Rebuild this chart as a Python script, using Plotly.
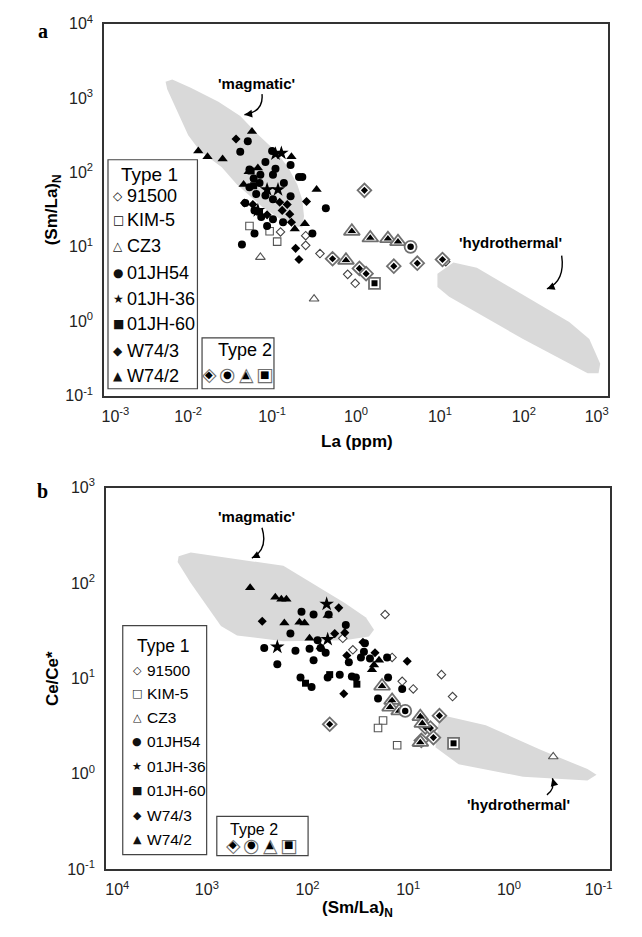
import numpy as np
import plotly.graph_objects as go

W, H = 642, 937
SANS = "Liberation Sans, Arial, Helvetica, sans-serif"
SERIF = "Liberation Serif, Times New Roman, serif"
SYM = "DejaVu Sans, sans-serif"

# ---------------- tick labels (decade exponents) ----------------
a_x_exp = [-3, -2, -1, 0, 1, 2, 3]
a_y_exp = [-1, 0, 1, 2, 3, 4]
b_x_exp = [4, 3, 2, 1, 0, -1]
b_y_exp = [-1, 0, 1, 2, 3]

series_names = ["91500", "KIM-5", "CZ3", "01JH54", "01JH-36", "01JH-60", "W74/3", "W74/2"]
legend_glyphs = ["◇", "□", "△", "●", "★", "■", "◆", "▲"]
type2_names = ["diamond", "circle", "triangle", "square"]
type2_outer_glyphs = ["◇", "○", "△", "□"]
type2_inner_glyphs = ["◆", "●", "▲", "■"]

# ---------------- Panel a: log10 La (ppm) vs log10 (Sm/La)N ----------------
a_91500_la = [-0.90, -0.60, -0.60, -0.43, -0.10, -0.01, 1.07]
a_91500_sm = [1.20, 1.15, 1.02, 0.91, 0.63, 0.51, 0.80]
a_kim5_la = [-1.27, -0.94, -1.03]
a_kim5_sm = [1.28, 1.07, 1.21]
a_cz3_la = [-1.14, -0.50]
a_cz3_sm = [0.86, 0.30]
a_jh54_la = [-1.29, -1.38, -1.00, -1.08, -0.96, -0.78, -1.27, -1.14, -0.99, -1.22, -1.15, -0.86,
             -0.68, -0.64, -1.27, -1.19, -1.08, -0.78, -1.32, -0.99, -1.21, -0.36, -0.99, -1.13,
             -1.21, -1.06, -1.36, -0.52, -0.87]
a_jh54_sm = [2.42, 2.28, 2.29, 2.14, 2.05, 2.10, 2.04, 1.97, 1.97, 1.92, 1.86, 1.86,
             1.94, 1.94, 1.80, 1.71, 1.69, 1.68, 1.59, 1.64, 1.49, 1.52, 1.37, 1.40,
             1.18, 1.28, 1.03, 1.18, 1.33]
a_jh36_la = [-0.89, -0.96, -1.06, -0.93, -1.17]
a_jh36_sm = [2.26, 2.25, 1.77, 1.77, 1.49]
a_jh60_la = [-1.22, -1.15, -1.25]
a_jh60_sm = [1.82, 1.47, 2.02]
a_w743_la = [-1.43, -1.23, -0.91, -0.82, -0.59, -0.88, -0.79, -0.77, -0.72, -0.68, -1.06, -1.33]
a_w743_sm = [2.45, 1.57, 1.60, 1.57, 1.61, 1.49, 1.44, 1.33, 0.98, 0.83, 1.43, 1.59]
a_w742_la = [-1.24, -1.88, -1.77, -1.59, -0.77, -1.17, -1.28, -1.34, -0.47, -0.73, -0.61]
a_w742_sm = [2.55, 2.29, 2.21, 2.18, 2.21, 2.06, 2.01, 1.84, 1.77, 1.24, 1.31]
a_t2_diamond_la = [0.10, -0.28, 0.04, 0.12, 0.45, 0.73, 1.03]
a_t2_diamond_sm = [1.76, 0.84, 0.71, 0.64, 0.74, 0.78, 0.83]
a_t2_triangle_la = [-0.05, 0.17, 0.38, 0.50, -0.12]
a_t2_triangle_sm = [1.21, 1.12, 1.11, 1.07, 0.82]
a_t2_circle_la = [0.65]
a_t2_circle_sm = [1.00]
a_t2_square_la = [0.22]
a_t2_square_sm = [0.51]

# fields (log10 units)
a_magmatic_la = [-2.27, -2.19, -1.97, -1.64, -1.38, -1.16, -0.96, -0.81, -0.70, -0.64, -0.62,
                 -0.64, -0.73, -0.90, -1.12, -1.42, -1.60, -1.86, -2.00, -2.15, -2.25]
a_magmatic_sm = [3.22, 3.25, 3.14, 2.95, 2.76, 2.50, 2.29, 2.07, 1.84, 1.63, 1.41,
                 1.26, 1.28, 1.37, 1.54, 1.84, 2.07, 2.29, 2.50, 2.86, 3.12]
a_hydro_la = [0.97, 1.16, 1.44, 2.54, 2.78, 2.91, 2.89, 2.76, 1.99, 1.11, 0.97]
a_hydro_sm = [0.64, 0.79, 0.72, -0.01, -0.24, -0.57, -0.70, -0.70, -0.24, 0.33, 0.46]

# ---------------- Panel b: log10 (Sm/La)N vs log10 Ce/Ce* ----------------
b_91500_sm = [1.65, 1.55, 1.23, 1.16, 1.06, 0.95, 0.67, 0.56]
b_91500_ce = [1.42, 1.30, 1.67, 1.22, 0.97, 0.89, 1.04, 0.81]
b_kim5_sm = [1.25, 1.30, 1.11]
b_kim5_ce = [0.56, 0.48, 0.30]
b_cz3_sm = [0.90, -0.44]
b_cz3_ce = [0.31, 0.18]
b_jh54_sm = [2.06, 1.94, 1.79, 1.62, 2.17, 1.90, 2.43, 2.12, 1.98, 1.87, 1.82, 2.30, 1.94, 2.07,
             1.96, 1.80, 1.68, 1.56, 1.52, 1.59, 1.44, 1.38, 1.43, 1.20, 1.06, 1.30, 1.21, 1.47]
b_jh54_ce = [1.70, 1.67, 1.67, 1.56, 1.47, 1.40, 1.32, 1.29, 1.31, 1.32, 1.27, 1.15, 1.19, 1.01,
             0.91, 1.01, 1.04, 1.02, 1.01, 1.17, 1.28, 1.21, 1.37, 1.01, 0.89, 0.79, 1.22, 1.22]
b_jh36_sm = [1.81, 2.30, 1.80]
b_jh36_ce = [1.78, 1.33, 1.41]
b_jh60_sm = [2.02, 1.78, 1.51]
b_jh60_ce = [0.95, 1.04, 0.94]
b_w743_sm = [2.45, 1.69, 1.73, 1.63, 1.61, 1.64, 1.45, 1.33, 1.01]
b_w743_ce = [1.60, 1.74, 1.47, 1.48, 1.24, 0.84, 1.38, 1.27, 1.18]
b_w742_sm = [2.57, 2.32, 2.26, 2.21, 2.23, 2.08, 2.03, 1.98, 1.80, 1.87, 1.36, 1.29, 1.34]
b_w742_ce = [1.95, 1.85, 1.83, 1.83, 1.58, 1.59, 1.58, 1.42, 1.66, 1.33, 1.09, 1.19, 1.14]
b_t2_diamond_sm = [1.78, 0.69, 0.83, 0.78, 0.75, 0.87]
b_t2_diamond_ce = [0.52, 0.61, 0.49, 0.48, 0.38, 0.35]
b_t2_triangle_sm = [1.26, 1.16, 1.18, 1.09, 0.88, 0.86, 0.88]
b_t2_triangle_ce = [0.92, 0.77, 0.70, 0.66, 0.60, 0.53, 0.33]
b_t2_circle_sm = [1.03]
b_t2_circle_ce = [0.66]
b_t2_square_sm = [0.55]
b_t2_square_ce = [0.32]

b_magmatic_sm = [3.28, 3.16, 2.24, 1.94, 1.63, 1.42, 1.34, 1.39, 1.63, 2.24, 2.70, 2.86, 3.16, 3.29]
b_magmatic_ce = [2.28, 2.32, 2.18, 1.99, 1.79, 1.64, 1.51, 1.44, 1.40, 1.39, 1.45, 1.55, 2.00, 2.22]
b_hydro_sm = [0.64, 0.23, -0.32, -0.78, -0.87, -0.78, -0.14, 0.50, 0.73, 0.70]
b_hydro_ce = [0.61, 0.51, 0.25, 0.05, -0.01, -0.07, -0.03, 0.10, 0.28, 0.53]

# ---------------- styles ----------------
T1_STYLE = {
    "91500":   dict(symbol="diamond", size=6.5, color="white", line=dict(color="#444", width=1.1)),
    "KIM-5":   dict(symbol="square", size=7.5, color="white", line=dict(color="#555", width=1.1)),
    "CZ3":     dict(symbol="triangle-up", size=8.5, color="white", line=dict(color="#555", width=1.1)),
    "01JH54":  dict(symbol="circle", size=8, color="black", line=dict(width=0)),
    "01JH-36": dict(symbol="star", size=11, color="black", line=dict(width=0)),
    "01JH-60": dict(symbol="square", size=7, color="black", line=dict(width=0)),
    "W74/3":   dict(symbol="diamond", size=7, color="black", line=dict(width=0)),
    "W74/2":   dict(symbol="triangle-up", size=9, color="black", line=dict(width=0)),
}
T2_STYLE = {
    "diamond":  ("diamond", 10.5, 5.5),
    "circle":   ("circle", 12, 6.5),
    "triangle": ("triangle-up", 14, 7.5),
    "square":   ("square", 11, 6),
}
FIELD = "#d9d9d9"

fig = go.Figure()


def L(v):
    return 10 ** np.asarray(v, dtype=float)


def add_field(x, y, xa, ya):
    fig.add_trace(go.Scatter(x=L(x), y=L(y), mode="lines", fill="toself", fillcolor=FIELD,
                             line=dict(width=0, color=FIELD), xaxis=xa, yaxis=ya,
                             hoverinfo="skip", showlegend=False))


def add_t1(name, x, y, xa, ya):
    fig.add_trace(go.Scatter(x=L(x), y=L(y), mode="markers", name=name, marker=T1_STYLE[name],
                             xaxis=xa, yaxis=ya, hoverinfo="skip", showlegend=False))


def add_t2(kind, x, y, xa, ya):
    sym, so, si = T2_STYLE[kind]
    fig.add_trace(go.Scatter(x=L(x), y=L(y), mode="markers",
                             marker=dict(symbol=sym, size=so, color="white",
                                         line=dict(color="#707070", width=1.8)),
                             xaxis=xa, yaxis=ya, hoverinfo="skip", showlegend=False))
    fig.add_trace(go.Scatter(x=L(x), y=L(y), mode="markers",
                             marker=dict(symbol=sym, size=si, color="black", line=dict(width=0)),
                             xaxis=xa, yaxis=ya, hoverinfo="skip", showlegend=False))


# panel a
add_field(a_magmatic_la, a_magmatic_sm, "x", "y")
add_field(a_hydro_la, a_hydro_sm, "x", "y")
a_sets = [("91500", a_91500_la, a_91500_sm), ("KIM-5", a_kim5_la, a_kim5_sm), ("CZ3", a_cz3_la, a_cz3_sm),
          ("01JH54", a_jh54_la, a_jh54_sm), ("01JH-36", a_jh36_la, a_jh36_sm), ("01JH-60", a_jh60_la, a_jh60_sm),
          ("W74/3", a_w743_la, a_w743_sm), ("W74/2", a_w742_la, a_w742_sm)]
for n, x, y in a_sets:
    add_t1(n, x, y, "x", "y")
for k, x, y in [("diamond", a_t2_diamond_la, a_t2_diamond_sm), ("triangle", a_t2_triangle_la, a_t2_triangle_sm),
                ("circle", a_t2_circle_la, a_t2_circle_sm), ("square", a_t2_square_la, a_t2_square_sm)]:
    add_t2(k, x, y, "x", "y")

# panel b
add_field(b_magmatic_sm, b_magmatic_ce, "x2", "y2")
add_field(b_hydro_sm, b_hydro_ce, "x2", "y2")
b_sets = [("91500", b_91500_sm, b_91500_ce), ("KIM-5", b_kim5_sm, b_kim5_ce), ("CZ3", b_cz3_sm, b_cz3_ce),
          ("01JH54", b_jh54_sm, b_jh54_ce), ("01JH-36", b_jh36_sm, b_jh36_ce), ("01JH-60", b_jh60_sm, b_jh60_ce),
          ("W74/3", b_w743_sm, b_w743_ce), ("W74/2", b_w742_sm, b_w742_ce)]
for n, x, y in b_sets:
    add_t1(n, x, y, "x2", "y2")
for k, x, y in [("diamond", b_t2_diamond_sm, b_t2_diamond_ce), ("triangle", b_t2_triangle_sm, b_t2_triangle_ce),
                ("circle", b_t2_circle_sm, b_t2_circle_ce), ("square", b_t2_square_sm, b_t2_square_ce)]:
    add_t2(k, x, y, "x2", "y2")


# ---------------- axes ----------------
NB = "&nbsp;" * 5


def tick_text(exps, edge_pad):
    out = ["10<sup>%d</sup>" % e for e in exps]
    if edge_pad:
        out[0] = NB + out[0]
        out[-1] = out[-1] + NB
    return out


def axis(exps, rng, domain, anchor, standoff, edge_pad=True):
    return dict(type="log", range=rng, domain=domain, anchor=anchor, autorange=False,
                showline=True, mirror=True, linecolor="#333", linewidth=2,
                showgrid=False, zeroline=False, ticks="",
                tickvals=[10.0 ** e for e in exps], ticktext=tick_text(exps, edge_pad),
                tickfont=dict(family=SANS, size=16, color="#222"),
                ticklabelstandoff=standoff, ticklabeloverflow="allow")


def px(x, y):
    return x / W, 1 - y / H


A_X = (86, 632); A_Y = (13, 393)
B_X = (88, 634); B_Y = (487, 877)

fig.update_layout(
    width=W, height=H, margin=dict(l=0, r=0, t=0, b=0),
    paper_bgcolor="white", plot_bgcolor="white", showlegend=False, hovermode=False,
    xaxis=axis(a_x_exp, [-3, 3], [A_X[0] / W, A_X[1] / W], "y", 5),
    yaxis=axis(a_y_exp, [-1, 4], [1 - A_Y[1] / H, 1 - A_Y[0] / H], "x", 6, False),
    xaxis2=axis(b_x_exp, [4, -1], [B_X[0] / W, B_X[1] / W], "y2", 5),
    yaxis2=axis(b_y_exp, [-1, 3], [1 - B_Y[1] / H, 1 - B_Y[0] / H], "x2", 6, False),
)

ann = []
shapes = []


def text(x, y, s, size, family=SANS, color="black", xanchor="center", angle=0):
    X, Y = px(x, y)
    ann.append(dict(x=X, y=Y, xref="paper", yref="paper", text=s, showarrow=False,
                    xanchor=xanchor, yanchor="middle", textangle=angle,
                    font=dict(family=family, size=size, color=color)))


def curved_arrow(p0, c, p1):
    x0, y0 = px(*p0); cx, cy = px(*c); x1, y1 = px(*p1)
    shapes.append(dict(type="path", xref="paper", yref="paper",
                       path="M %f,%f Q %f,%f %f,%f" % (x0, y0, cx, cy, x1, y1),
                       line=dict(color="black", width=1.4)))
    dx, dy = p1[0] - c[0], p1[1] - c[1]
    n = (dx * dx + dy * dy) ** 0.5
    X, Y = px(*p1)
    ann.append(dict(x=X, y=Y, xref="paper", yref="paper", text="", showarrow=True,
                    ax=-7 * dx / n, ay=-7 * dy / n, arrowhead=2, arrowsize=1.1,
                    arrowwidth=1.4, arrowcolor="black"))


def rect(x0, y0, x1, y1):
    X0, Y0 = px(x0, y0); X1, Y1 = px(x1, y1)
    shapes.append(dict(type="rect", xref="paper", yref="paper", x0=X0, y0=Y1, x1=X1, y1=Y0,
                       line=dict(color="#444", width=1.2), fillcolor="rgba(0,0,0,0)"))


# panel labels & axis titles
text(19, 20, "<b>a</b>", 20, SERIF)
text(19, 490, "<b>b</b>", 20, SERIF)
text(30, 203, "<b>(Sm/La)<sub>N</sub></b>", 17, angle=-90)
text(360, 440, "<b>La (ppm)</b>", 17)
text(30, 682, "<b>Ce/Ce*</b>", 17, angle=-90)
text(361, 918, "<b>(Sm/La)<sub>N</sub></b>", 17)

# field labels and arrows
text(251, 74, "<b>'magmatic'</b>", 15)
curved_arrow((257, 85), (259, 103), (238, 106))
text(527, 237, "<b>'hydrothermal'</b>", 15)
curved_arrow((582, 250), (586, 276), (566, 284))
text(251, 517, "<b>'magmatic'</b>", 15)
curved_arrow((257, 528), (264, 550), (246, 559))
text(535, 811, "<b>'hydrothermal'</b>", 15)
curved_arrow((566, 801), (575, 795), (572, 784))

# legends panel a
rect(90, 152, 187, 386)
rect(192, 334, 270, 386)
text(102, 167, "Type 1", 19, xanchor="left")
a_rows = [189, 214, 240, 268, 294, 320, 347, 373]
for g, nm, yy in zip(legend_glyphs, series_names, a_rows):
    text(101, yy, g, 12, SYM, color="#111")
    text(108, yy, nm, 18, xanchor="left")
text(207, 346, "Type 2", 18, xanchor="left")
for i, (go_, gi) in enumerate(zip(type2_outer_glyphs, type2_inner_glyphs)):
    xx = 200 + 20 * i
    text(xx, 371, go_, 19, SYM, color="#707070")
    text(xx, 371, gi, 10, SYM, color="black")

# legends panel b
rect(106, 628, 197, 862)
rect(208, 823, 307, 863)
text(119, 649, "Type 1", 17.5, xanchor="left")
b_rows = [674, 697, 722, 746, 772, 797, 822, 847]
for g, nm, yy in zip(legend_glyphs, series_names, b_rows):
    text(122, yy, g, 11, SYM, color="#111")
    text(130, yy, nm, 15.5, xanchor="left")
text(220, 836, "Type 2", 16, xanchor="left")
for i, (go_, gi) in enumerate(zip(type2_outer_glyphs, type2_inner_glyphs)):
    xx = 226 + 20 * i
    text(xx, 852, go_, 19, SYM, color="#707070")
    text(xx, 852, gi, 10, SYM, color="black")

fig.update_layout(annotations=ann, shapes=shapes)
fig.write_html("out.html", config={"displayModeBar": False, "staticPlot": True},
               post_script="document.body.style.margin='0';document.body.style.overflow='hidden';")
